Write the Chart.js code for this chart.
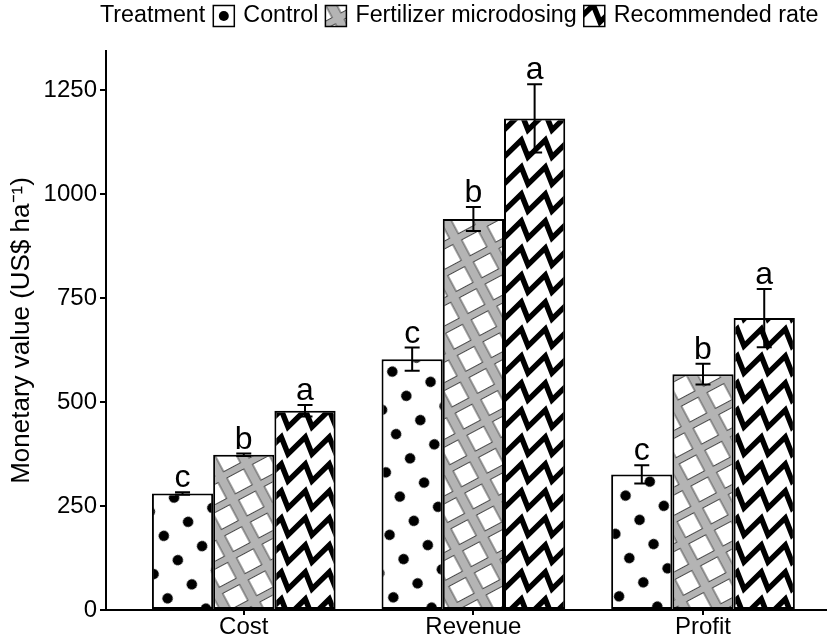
<!DOCTYPE html>
<html>
<head>
<meta charset="utf-8">
<script src="https://cdn.jsdelivr.net/npm/chart.js@4.4.1/dist/chart.umd.min.js"></script>
<style>
  body { margin: 0; background: #fff; }
  canvas { display: block; }
</style>
</head>
<body>
<canvas id="myChart" width="827" height="639"></canvas>
<script>
const categories = ['Cost', 'Revenue', 'Profit']
const treatments = ['Control', 'Fertilizer microdosing', 'Recommended rate']

const control = [280, 603, 326]
const microdosing = [373, 940, 567]
const recommended = [479, 1182, 702]

const controlErr = [3, 28, 22]
const microdosingErr = [3, 29, 25]
const recommendedErr = [14, 82, 70]

const controlLetters = ['c', 'c', 'c']
const microdosingLetters = ['b', 'b', 'b']
const recommendedLetters = ['a', 'a', 'a']

const yTicks = [0, 250, 500, 750, 1000, 1250]

const FONT = '"Liberation Sans", Arial, sans-serif'

const ctx = document.getElementById('myChart')
const g2 = ctx.getContext('2d')

// patterns for the bars
function tile(w, h, draw) {
    const c = document.createElement('canvas')
    c.width = w
    c.height = h
    const g = c.getContext('2d')
    g.fillStyle = '#fff'
    g.fillRect(0, 0, w, h)
    draw(g)
    return c
}

function dotPattern() {
    const c = tile(28, 28, g => {
        g.fillStyle = '#000'
        g.beginPath()
        g.arc(14, 14, 5.2, 0, Math.PI * 2)
        g.fill()
    })
    const p = g2.createPattern(c, 'repeat')
    p.setTransform(new DOMMatrix().rotate(60))
    return p
}

function ladderPattern() {
    const c = tile(29, 25, g => {
        g.fillStyle = '#b4b4b4'
        g.fillRect(0, 0, 29, 25)
        g.fillStyle = '#fff'
        g.fillRect(5, 3.5, 19, 18)
        g.strokeStyle = '#4a4a4a'
        g.lineWidth = 1
        g.strokeRect(5, 3.5, 19, 18)
    })
    const p = g2.createPattern(c, 'repeat')
    p.setTransform(new DOMMatrix().rotate(-28))
    return p
}

function zigzagPattern() {
    const P = 24, R = 27, A = 17
    const c = tile(P, R, g => {
        g.strokeStyle = '#000'
        g.lineWidth = 5.5
        g.lineJoin = 'miter'
        for (let dy = -R; dy <= R; dy += R) {
            g.beginPath()
            for (let x = -P; x <= 2 * P; x += P) {
                g.lineTo(x, dy + 5 + A)
                g.lineTo(x + 0.72 * P, dy + 5)
            }
            g.stroke()
        }
    })
    return g2.createPattern(c, 'repeat')
}

const patterns = [dotPattern(), ladderPattern(), zigzagPattern()]

function toPoints(values) {
    return values.map((v, i) => ({ x: i + 1, y: v }))
}

const errorBars = {
    id: 'errorBars',
    afterDatasetsDraw(chart) {
        const c = chart.ctx
        const y = chart.scales.y
        chart.data.datasets.forEach((ds, i) => {
            const meta = chart.getDatasetMeta(i)
            meta.data.forEach((bar, j) => {
                const v = ds.data[j].y
                const e = ds.errors[j]
                const top = y.getPixelForValue(v + e)
                const bot = y.getPixelForValue(v - e)
                c.save()
                c.strokeStyle = '#000'
                c.lineWidth = 2
                c.beginPath()
                c.moveTo(bar.x, top)
                c.lineTo(bar.x, bot)
                c.moveTo(bar.x - 7.5, top)
                c.lineTo(bar.x + 7.5, top)
                c.moveTo(bar.x - 7.5, bot)
                c.lineTo(bar.x + 7.5, bot)
                c.stroke()
                c.fillStyle = '#000'
                c.font = '32px ' + FONT
                c.textAlign = 'center'
                c.textBaseline = 'alphabetic'
                c.fillText(ds.letters[j], bar.x, top - 5)
                c.restore()
            })
        })
    }
}

// legend with the title inline, like ggplot
const topLegend = {
    id: 'topLegend',
    afterDraw(chart) {
        const c = chart.ctx
        const cy = 16
        c.save()
        c.font = '23.3px ' + FONT
        c.fillStyle = '#000'
        c.textBaseline = 'middle'
        let x = 100
        c.fillText('Treatment', x, cy)
        x += c.measureText('Treatment').width + 8
        chart.data.datasets.forEach((ds, i) => {
            const s = 21
            if (i === 0) {
                c.fillStyle = '#fff'
                c.fillRect(x, cy - s / 2, s, s)
                c.fillStyle = '#000'
                c.beginPath()
                c.arc(x + s / 2, cy, 5, 0, Math.PI * 2)
                c.fill()
            } else {
                c.fillStyle = ds.backgroundColor
                c.fillRect(x, cy - s / 2, s, s)
            }
            c.strokeStyle = '#000'
            c.lineWidth = 1.5
            c.strokeRect(x, cy - s / 2, s, s)
            x += s + 9
            c.fillStyle = '#000'
            c.fillText(ds.label, x, cy)
            x += c.measureText(ds.label).width + 7
        })
        c.restore()
    }
}

const allData = [control, microdosing, recommended]
const allErr = [controlErr, microdosingErr, recommendedErr]
const allLetters = [controlLetters, microdosingLetters, recommendedLetters]

new Chart(ctx, {
    type: 'bar',
    data: {
        datasets: treatments.map((t, i) => ({
            label: t,
            data: toPoints(allData[i]),
            errors: allErr[i],
            letters: allLetters[i],
            backgroundColor: patterns[i],
            borderColor: '#000',
            borderWidth: 2,
            borderSkipped: false,
            barPercentage: 1,
            categoryPercentage: 0.8
        }))
    },
    options: {
        responsive: false,
        animation: false,
        events: [],
        layout: { padding: { top: 51, left: 0, right: 0, bottom: 0 } },
        plugins: {
            legend: { display: false },
            tooltip: { enabled: false }
        },
        scales: {
            x: {
                type: 'linear',
                offset: false,
                min: 0.4,
                max: 3.54,
                afterBuildTicks: s => { s.ticks = categories.map((c, i) => ({ value: i + 1 })) },
                ticks: {
                    callback: v => categories[v - 1],
                    color: '#000',
                    font: { size: 24, family: FONT, lineHeight: 1 },
                    padding: 0,
                    maxRotation: 0,
                    autoSkip: false
                },
                grid: { offset: false, drawOnChartArea: false, drawTicks: true, tickLength: 5, color: '#000', lineWidth: 2 },
                border: { color: '#000', width: 2 }
            },
            y: {
                min: 0,
                max: 1344,
                afterBuildTicks: s => { s.ticks = yTicks.map(v => ({ value: v })) },
                afterFit: s => { s.width = 106 },
                ticks: {
                    callback: v => String(v),
                    color: '#000',
                    font: { size: 24, family: FONT },
                    padding: 3
                },
                grid: { drawOnChartArea: false, drawTicks: true, tickLength: 6, color: '#000', lineWidth: 2 },
                border: { color: '#000', width: 2 },
                title: {
                    display: true,
                    text: 'Monetary value (US$ ha⁻¹)',
                    color: '#000',
                    font: { size: 26, family: FONT },
                    padding: { top: 6, bottom: 0 }
                }
            }
        }
    },
    plugins: [errorBars, topLegend]
})
</script>
</body>
</html>
